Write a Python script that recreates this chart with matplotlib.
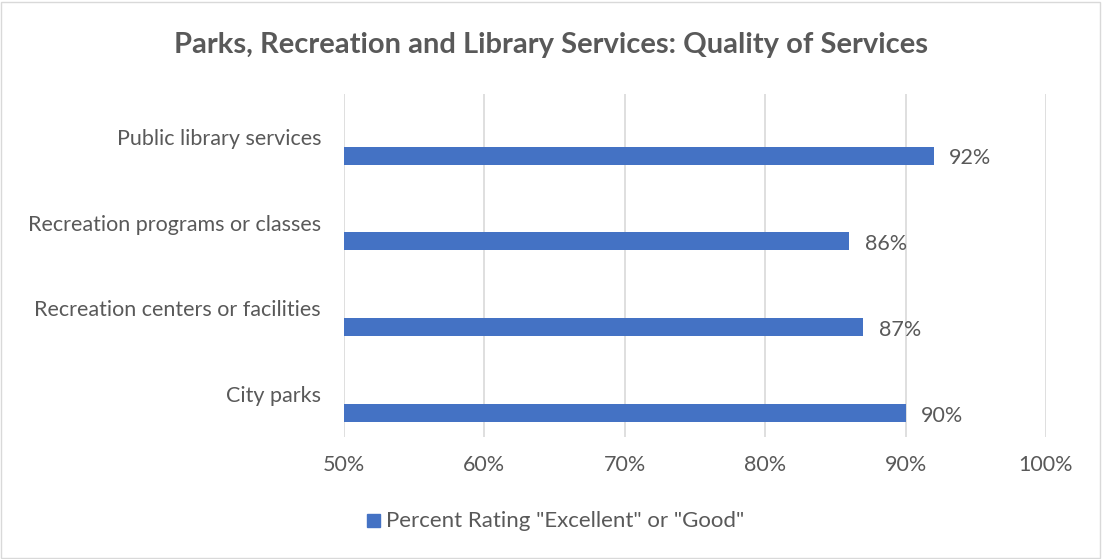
import matplotlib
matplotlib.use('Agg')
import matplotlib.pyplot as plt
from matplotlib.patches import Rectangle

# data (bottom to top, as drawn)
categories = ['City parks', 'Recreation centers or facilities',
              'Recreation programs or classes', 'Public library services']
values = [90, 87, 86, 92]
series_name = 'Percent Rating "Excellent" or "Good"'
x_ticks = [50, 60, 70, 80, 90, 100]

bar_color = '#4472C4'
text_color = '#595959'
grid_color = '#D9D9D9'
plt.rcParams['font.family'] = ['Lato', 'DejaVu Sans']

fig = plt.figure(figsize=(11.02, 5.59), dpi=100)
ax = fig.add_axes([344 / 1102, 1 - 437 / 559, 702 / 1102, 343 / 559])

# bars sit in the lower half of each band (Excel style offset)
pos = list(range(len(categories)))
bar_y = [p - 0.22 for p in pos]
ax.barh(bar_y, values, height=0.21, left=0, color=bar_color, zorder=3)
for y, v in zip(bar_y, values):
  ax.text(v + 1.1, y - 0.03, f'{v}%', va='center', ha='left',
          fontsize=15.5, color=text_color)

ax.set_xlim(50, 100)
ax.set_ylim(-0.5, len(categories) - 0.5)
ax.set_xticks(x_ticks)
ax.set_xticklabels([f'{t}%' for t in x_ticks], fontsize=15.5, color=text_color)
ax.set_yticks(pos)
ax.set_yticklabels(categories, fontsize=15.5, color=text_color)
ax.tick_params(axis='both', length=0)
ax.tick_params(axis='x', pad=13)
ax.tick_params(axis='y', pad=16.5)
ax.xaxis.grid(True, color=grid_color, linewidth=1.2, zorder=0)
for s in ax.spines.values():
  s.set_visible(False)

fig.suptitle('Parks, Recreation and Library Services: Quality of Services',
             x=0.5, y=1 - 45 / 559, va='center', fontsize=21, fontweight='bold',
             color=text_color)

# legend
fig.patches.append(Rectangle((367 / 1102, 1 - 527 / 559), 13 / 1102, 13 / 559,
                             transform=fig.transFigure, color=bar_color))
fig.text(386 / 1102, 1 - 521 / 559, series_name, va='center', ha='left',
         fontsize=16, color=text_color)

# chart border
fig.patches.append(Rectangle((0.001, 0.001), 0.997, 0.996, transform=fig.transFigure,
                             fill=False, edgecolor=grid_color, linewidth=1))

fig.savefig('out.png', dpi=100)
